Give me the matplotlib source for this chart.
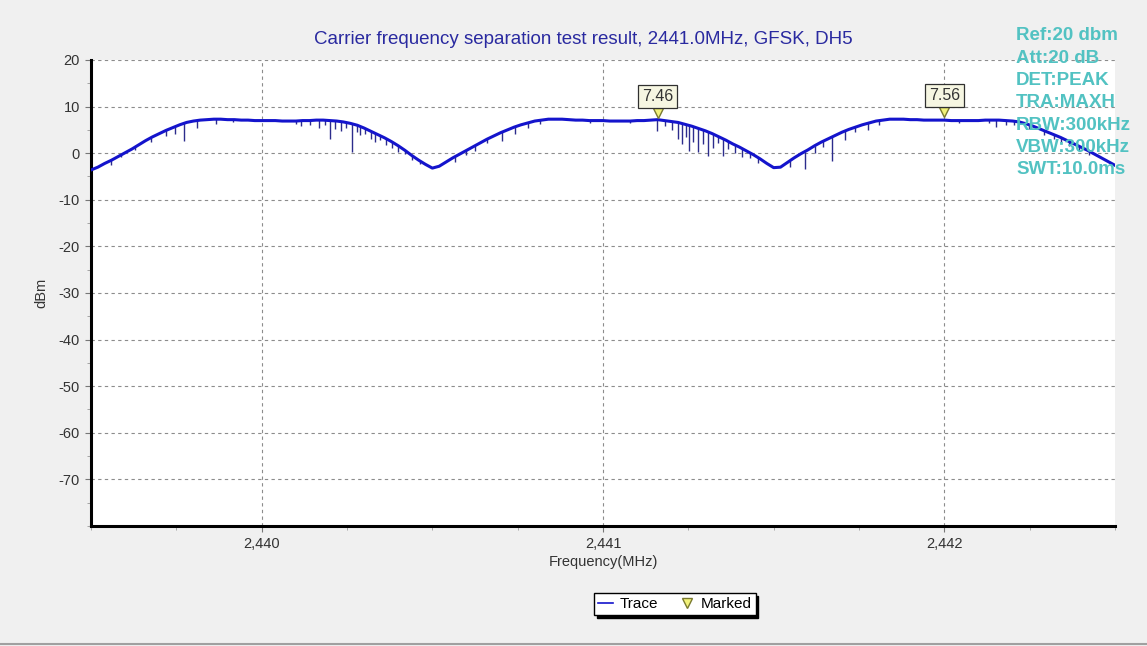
# Carrier frequency separation plot (spectrum analyser style)

import matplotlib
matplotlib.use('Agg')
import matplotlib.pyplot as plt
import matplotlib.transforms as mtrans
from matplotlib.lines import Line2D
from matplotlib.ticker import MultipleLocator, FuncFormatter
import numpy as np


# DATA
freq_start = 2439.5
freq_step = 0.02
trace_dbm = [
    -3.6, -3.0, -2.2, -1.5, -0.7, 0.1, 0.9, 1.8, 2.7, 3.5,
    4.2, 4.9, 5.5, 6.1, 6.6, 6.9, 7.1, 7.2, 7.3, 7.3,
    7.2, 7.2, 7.1, 7.1, 7.0, 7.0, 7.0, 7.0, 6.9, 6.9,
    6.9, 7.0, 7.0, 7.1, 7.1, 7.0, 6.9, 6.7, 6.4, 6.0,
    5.4, 4.7, 4.0, 3.3, 2.5, 1.6, 0.6, -0.5, -1.5, -2.4,
    -3.2, -2.8, -1.9, -1.0, -0.2, 0.6, 1.4, 2.2, 3.0, 3.7,
    4.4, 5.0, 5.6, 6.1, 6.5, 6.9, 7.1, 7.3, 7.3, 7.3,
    7.2, 7.1, 7.1, 7.0, 7.0, 7.0, 6.9, 6.9, 6.9, 6.9,
    7.0, 7.0, 7.1, 7.2, 7.0, 6.8, 6.6, 6.2, 5.8, 5.3,
    4.8, 4.2, 3.5, 2.8, 2.0, 1.3, 0.5, -0.3, -1.2, -2.2,
    -3.1, -3.0, -2.0, -1.0, -0.1, 0.7, 1.6, 2.4, 3.1, 3.8,
    4.5, 5.1, 5.6, 6.1, 6.5, 6.9, 7.1, 7.3, 7.3, 7.3,
    7.2, 7.2, 7.1, 7.1, 7.1, 7.1, 7.0, 7.0, 7.0, 7.0,
    7.0, 7.1, 7.1, 7.1, 7.0, 6.9, 6.7, 6.3, 5.8, 5.2,
    4.6, 4.0, 3.4, 2.7, 2.0, 1.3, 0.6, -0.2, -1.0, -1.8,
    -2.6,
]

# downward glitches of the max-hold trace (frequency, lowest level)
spike_freq = [
    2439.560, 2439.588, 2439.630, 2439.675, 2439.720, 2439.745, 2439.772,
    2439.810, 2439.865, 2439.915,
    2440.100, 2440.114, 2440.143, 2440.167, 2440.187, 2440.200, 2440.216,
    2440.231, 2440.246, 2440.266, 2440.278, 2440.289, 2440.304, 2440.319,
    2440.333, 2440.348, 2440.363, 2440.383, 2440.400, 2440.421, 2440.440,
    2440.465, 2440.567, 2440.600, 2440.626, 2440.660, 2440.705, 2440.743,
    2440.780, 2440.816,
    2440.962, 2441.079, 2441.158, 2441.181, 2441.202, 2441.219, 2441.231,
    2441.243, 2441.251, 2441.263, 2441.278, 2441.292, 2441.307, 2441.322,
    2441.336, 2441.351, 2441.365, 2441.386, 2441.406, 2441.430, 2441.453,
    2441.547, 2441.591, 2441.620, 2441.645, 2441.670, 2441.708, 2441.737,
    2441.775, 2441.810, 2442.044, 2442.132, 2442.152, 2442.181, 2442.205,
    2442.249, 2442.292, 2442.322, 2442.342, 2442.365, 2442.395, 2442.424,
]
spike_low = [
    -2.6, -0.8, 0.6, 2.3, 3.6, 4.2, 2.6,
    5.5, 6.3, 6.6,
    6.3, 5.8, 6.0, 5.5, 6.0, 3.0, 5.2,
    4.8, 5.5, 0.2, 4.5, 3.8, 4.2, 3.0,
    2.5, 2.8, 1.8, 1.2, 0.3, -0.2, -1.5,
    -2.4, -1.8, -0.4, 0.4, 2.2, 2.6, 4.2,
    5.4, 6.2,
    6.5, 6.5, 4.7, 5.8, 5.0, 3.0, 1.9,
    3.5, 0.4, 2.5, 0.2, 2.0, -0.6, 1.2,
    2.2, -0.6, 1.0, 0.0, -0.8, -1.0, -2.0,
    -3.0, -3.4, 0.0, 1.4, -1.7, 2.8, 4.5,
    5.0, 6.0, 6.4, 6.4, 5.7, 6.0, 6.0,
    5.3, 3.8, 3.0, 2.4, 1.5, 0.5, -0.4,
]

marker_freq = [2441.16, 2442.00]
marker_dbm = [7.46, 7.56]

info_lines = ["Ref:20 dbm", "Att:20 dB", "DET:PEAK", "TRA:MAXH",
              "RBW:300kHz", "VBW:300kHz", "SWT:10.0ms"]

y_ticks = [20, 10, 0, -10, -20, -30, -40, -50, -60, -70]
x_ticks = [2440, 2441, 2442]


# FIGURE
plt.rcParams['font.family'] = ['Liberation Sans', 'DejaVu Sans']
plt.rcParams['axes.unicode_minus'] = False
fig = plt.figure(figsize=(11.47, 6.46), dpi=100, facecolor='#f0f0f0')
ax = fig.add_axes([91 / 1147, 1 - 526 / 646, 1024 / 1147, 466 / 646])
ax.set_facecolor('white')

freq = freq_start + freq_step * np.arange(len(trace_dbm))
trace = np.array(trace_dbm)

# GRAPHS
spike_top = np.interp(spike_freq, freq, trace)
ax.vlines(spike_freq, spike_low, spike_top, color='#2c2c8c', linewidth=1.0, zorder=3)
ax.plot(freq, trace, color='#1414cc', linewidth=2.2, zorder=4)

# markers with value boxes
mk_trans = mtrans.offset_copy(ax.transData, fig=fig, x=0, y=4, units='points')
ax.plot(marker_freq, marker_dbm, linestyle='none', marker='v', markersize=7.5,
        markerfacecolor='#f2f27a', markeredgecolor='#7a7a30', transform=mk_trans, zorder=6)
for f, v in zip(marker_freq, marker_dbm):
    ax.annotate(f"{v:.2f}", xy=(f, v), xytext=(0, 16), textcoords='offset points',
                ha='center', va='center', fontsize=11.5, color='#333333', zorder=7,
                bbox=dict(boxstyle='square,pad=0.25', fc='#f6f6e2', ec='#303030', lw=0.9))

# AXES PROPERTIES
ax.set_xlim(2439.5, 2442.5)
ax.set_ylim(-80, 20)
ax.set_xticks(x_ticks)
ax.set_yticks(y_ticks)
ax.xaxis.set_minor_locator(MultipleLocator(0.25))
ax.yaxis.set_minor_locator(MultipleLocator(5))
ax.xaxis.set_major_formatter(FuncFormatter(lambda v, p: f"{v:,.0f}"))
ax.grid(True, which='major', color='#8c8c8c', linestyle=(0, (3, 3)), linewidth=0.8)
ax.tick_params(which='major', length=4, color='#777777', labelsize=10.5,
               labelcolor='#333333', pad=4)
ax.tick_params(which='minor', length=3, color='#999999')
for side in ['top', 'right']:
    ax.spines[side].set_visible(False)
for side in ['left', 'bottom']:
    ax.spines[side].set_linewidth(2.2)
    ax.spines[side].set_color('black')

ax.set_xlabel('Frequency(MHz)', fontsize=10.5, color='#333333', labelpad=3)
ax.set_ylabel('dBm', fontsize=10.5, color='#333333')
ax.yaxis.set_label_coords(-0.042, 0.5)

fig.text(583 / 1147, 1 - 40 / 646, 'Carrier frequency separation test result, 2441.0MHz, GFSK, DH5',
         ha='center', va='center', fontsize=13.5, color='#2a2aa0')

# analyser settings
for i, line in enumerate(info_lines):
    fig.text(1016 / 1147, 1 - (36 + 22.3 * i) / 646, line, ha='left', va='center',
             fontsize=13.5, fontweight='bold', color='#52c2c2', zorder=10)

# LEGEND
handles = [Line2D([], [], color='#1414cc', linewidth=1.2),
           Line2D([], [], linestyle='none', marker='v', markersize=7,
                  markerfacecolor='#f2f27a', markeredgecolor='#7a7a30')]
fig.legend(handles, ['Trace', 'Marked'], ncol=2, loc='center',
           bbox_to_anchor=(675 / 1147, 1 - 604 / 646), fontsize=11,
           frameon=True, fancybox=False, edgecolor='black', framealpha=1,
           shadow={'facecolor': 'black', 'edgecolor': 'black', 'alpha': 1},
           handlelength=1.0, handletextpad=0.4, columnspacing=1.4,
           borderpad=0.25, borderaxespad=0)

# window border at the bottom
fig.add_artist(Line2D([0, 1], [1 - 644 / 646, 1 - 644 / 646], color='#a0a0a0', linewidth=1.5))

fig.savefig('out.png', dpi=100, facecolor=fig.get_facecolor())
